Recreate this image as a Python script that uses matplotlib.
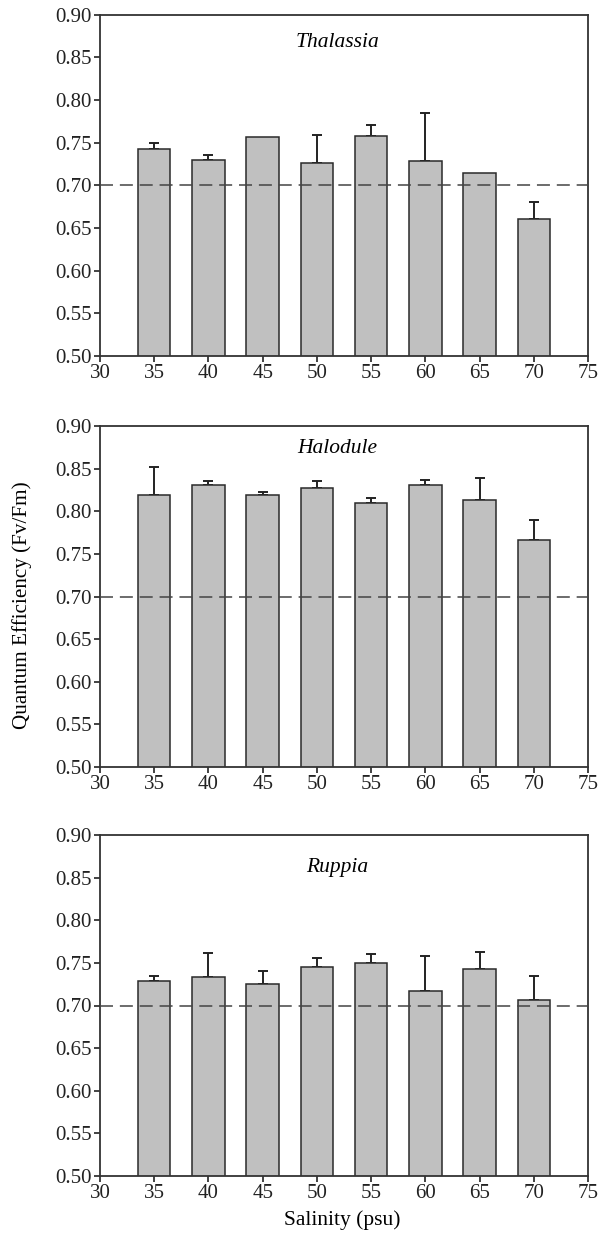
import numpy as np
import matplotlib
matplotlib.use("Agg")
import matplotlib.pyplot as plt

######################### Data #############################

salinity = [35, 40, 45, 50, 55, 60, 65, 70]
species = ["Thalassia", "Halodule", "Ruppia"]

thalassia_mean = [0.743, 0.730, 0.757, 0.726, 0.758, 0.728, 0.714, 0.660]
thalassia_se = [0.007, 0.0055, 0.0, 0.033, 0.013, 0.057, 0.0, 0.021]

halodule_mean = [0.819, 0.831, 0.819, 0.827, 0.810, 0.831, 0.8135, 0.7665]
halodule_se = [0.033, 0.005, 0.0035, 0.009, 0.006, 0.006, 0.025, 0.023]

ruppia_mean = [0.729, 0.734, 0.725, 0.745, 0.7495, 0.717, 0.743, 0.707]
ruppia_se = [0.006, 0.027, 0.015, 0.0105, 0.0105, 0.041, 0.020, 0.028]

threshold = 0.70
yticks = [0.50, 0.55, 0.60, 0.65, 0.70, 0.75, 0.80, 0.85, 0.90]
xticks = [30, 35, 40, 45, 50, 55, 60, 65, 70, 75]

######################### Plotting #########################

plt.rcParams['font.family'] = ['Liberation Serif', 'DejaVu Serif']

W, H = 610, 1234
fig = plt.figure(figsize=(W / 100, H / 100), dpi=100)

# pixel boxes (top, bottom) of each panel
panels = [(14.7, 356), (426, 767), (835, 1176)]
left_px, right_px = 100, 588
title_y = [0.918, 0.935, 0.906]

means = [thalassia_mean, halodule_mean, ruppia_mean]
errs = [thalassia_se, halodule_se, ruppia_se]

for i, (top, bot) in enumerate(panels):
    ax = fig.add_axes([left_px / W, 1 - bot / H, (right_px - left_px) / W, (bot - top) / H])
    ax.bar(salinity, means[i], width=3.0, color="#c0c0c0", edgecolor="#2a2a2a",
           linewidth=1.1, zorder=2)
    # only the upper half of the error bar is shown, and none where SE is zero
    x = np.array(salinity)
    m = np.array(means[i])
    e = np.array(errs[i])
    keep = e > 0
    ax.errorbar(x[keep], m[keep], yerr=[np.zeros(keep.sum()), e[keep]], fmt="none",
                ecolor="#222222", elinewidth=1.4, capsize=3.6, capthick=1.4, zorder=1)
    ax.axhline(threshold, color="#444444", linewidth=1.1, dashes=(8.5, 4.5), zorder=3)

    ax.set_xlim(30, 75)
    ax.set_ylim(0.50, 0.90)
    ax.set_xticks(xticks)
    ax.set_yticks(yticks)
    ax.set_yticklabels([f"{v:.2f}" for v in yticks])
    ax.tick_params(direction="out", length=4, width=1.2, labelsize=15, colors="#222222",
                   pad=2)
    for sp in ax.spines.values():
        sp.set_linewidth(1.3)
        sp.set_color("#333333")

    ax.text(51.9, title_y[i], species[i], transform=ax.get_xaxis_transform(),
            ha="center", va="center", fontsize=15.5, style="italic")

fig.text(22 / W, 1 - 605 / H, "Quantum Efficiency (Fv/Fm)", rotation=90,
         ha="center", va="center", fontsize=15.2)
fig.text(342 / W, 1 - 1220 / H, "Salinity (psu)", ha="center", va="center", fontsize=15.5)

fig.savefig("out.png", dpi=100)
